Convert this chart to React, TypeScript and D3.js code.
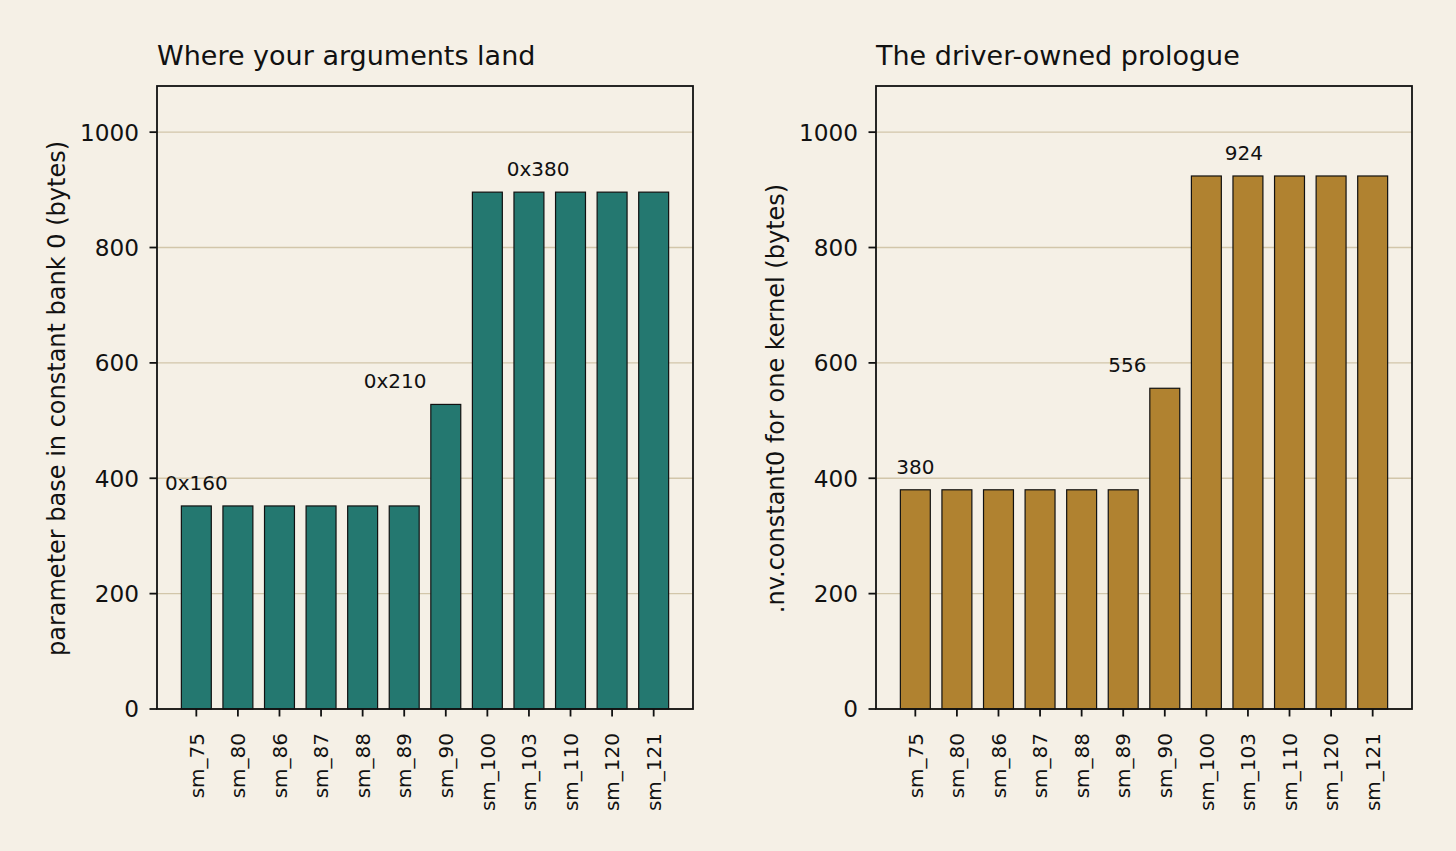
import { useEffect } from "react";
import * as d3 from "d3";

const ARCHS = ["sm_75", "sm_80", "sm_86", "sm_87", "sm_88", "sm_89", "sm_90", "sm_100", "sm_103", "sm_110", "sm_120", "sm_121"];
const PARAM_BASE = [352, 352, 352, 352, 352, 352, 528, 896, 896, 896, 896, 896];
const CONST0_SIZE = [380, 380, 380, 380, 380, 380, 556, 924, 924, 924, 924, 924];
const Y_TICKS = [0, 200, 400, 600, 800, 1000];

// annotation text, x position (in bar-index units), value it sits above
const LEFT_NOTES = [
  { text: "0x160", at: 0, v: 352 },
  { text: "0x210", at: 4.78, v: 528 },
  { text: "0x380", at: 8.22, v: 896 },
];
const RIGHT_NOTES = [
  { text: "380", at: 0, v: 380 },
  { text: "556", at: 5.1, v: 556 },
  { text: "924", at: 7.9, v: 924 },
];

const W = 1456;
const H = 851;
const BG = "#f5f0e6";
const GRID = "#d2c6aa";
const FONT = "DejaVu Sans";
const PANEL_W = 536;
const TOP = 86;
const BOTTOM = 709;
const Y_MAX = 1080;

interface PanelProps {
  left: number;
  title: string;
  ylabel: string;
  values: number[];
  notes: { text: string; at: number; v: number }[];
  color: string;
}

function Panel({ left, title, ylabel, values, notes, color }: PanelProps) {
  const x = d3.scaleLinear().domain([-0.946, ARCHS.length - 1 + 0.946]).range([left, left + PANEL_W]);
  const y = d3.scaleLinear().domain([0, Y_MAX]).range([BOTTOM, TOP]);
  const bw = x(0.72) - x(0);

  return (
    <g fontFamily={FONT}>
      <text x={left} y={65} fontSize={27} fill="#111">{title}</text>
      {Y_TICKS.map((t) => (
        <line key={"g" + t} x1={left} x2={left + PANEL_W} y1={y(t)} y2={y(t)} stroke={GRID} strokeWidth={1.4} />
      ))}
      {values.map((v, i) => (
        <rect
          key={ARCHS[i]}
          x={x(i) - bw / 2}
          y={y(v)}
          width={bw}
          height={y(0) - y(v)}
          fill={color}
          stroke="#111"
          strokeWidth={1.2}
        />
      ))}
      {notes.map((n) => (
        <text key={n.text} x={x(n.at)} y={y(n.v) - 16} textAnchor="middle" fontSize={20} fill="#111">
          {n.text}
        </text>
      ))}
      <rect x={left} y={TOP} width={PANEL_W} height={BOTTOM - TOP} fill="none" stroke="#111" strokeWidth={1.8} />
      {Y_TICKS.map((t) => (
        <g key={"t" + t}>
          <line x1={left - 7.5} x2={left} y1={y(t)} y2={y(t)} stroke="#111" strokeWidth={1.8} />
          <text x={left - 18} y={y(t)} dy="0.36em" textAnchor="end" fontSize={23.2} fill="#111">{t}</text>
        </g>
      ))}
      {ARCHS.map((a, i) => (
        <g key={"x" + a}>
          <line x1={x(i)} x2={x(i)} y1={BOTTOM} y2={BOTTOM + 7.5} stroke="#111" strokeWidth={1.8} />
          <text
            transform={`translate(${x(i)},${BOTTOM + 24}) rotate(-90)`}
            dy="0.36em"
            textAnchor="end"
            fontSize={20}
            fill="#111"
          >
            {a}
          </text>
        </g>
      ))}
      <text
        transform={`translate(${left - 101},${(TOP + BOTTOM) / 2 + 1}) rotate(-90)`}
        dy="0.36em"
        textAnchor="middle"
        fontSize={24}
        fill="#111"
      >
        {ylabel}
      </text>
    </g>
  );
}

export default function App() {
  useEffect(() => {
    document.body.style.margin = "0";
    document.body.style.background = BG;
  }, []);

  return (
    <svg width={W} height={H} style={{ display: "block" }}>
      <rect width={W} height={H} fill={BG} />
      <Panel
        left={157}
        title="Where your arguments land"
        ylabel="parameter base in constant bank 0 (bytes)"
        values={PARAM_BASE}
        notes={LEFT_NOTES}
        color="#247870"
      />
      <Panel
        left={876}
        title="The driver-owned prologue"
        ylabel=".nv.constant0 for one kernel (bytes)"
        values={CONST0_SIZE}
        notes={RIGHT_NOTES}
        color="#b08230"
      />
    </svg>
  );
}
